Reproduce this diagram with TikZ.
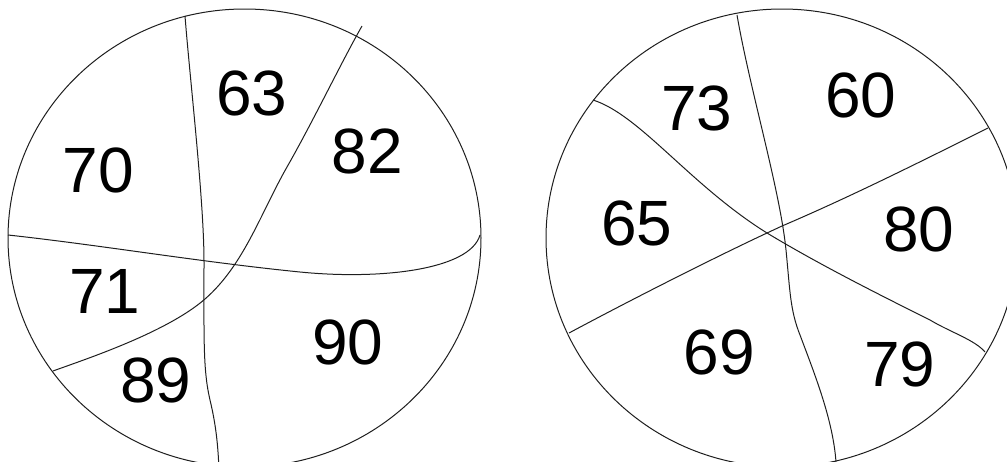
\documentclass[tikz,border=0pt]{standalone}
\usepackage{fontspec}
\setmainfont{Liberation Sans}

\tikzset{every picture/.style={line width=0.75pt}}
\tikzset{numlbl/.style={anchor=center,inner sep=0.75pt,font=\fontsize{48}{48}\selectfont}}

\begin{document}
\begin{tikzpicture}[x=0.75pt,y=0.75pt,yscale=-1,xscale=1]
%set diagram left start at 0, and has height of 461
\useasboundingbox (0,0) rectangle (1007,461);

%Shape: Ellipse [id:left]
\draw [color={rgb, 255:red, 30; green, 30; blue, 30 }  ,draw opacity=1 ] (8,238) .. controls (8,111.52) and (113.88,9) .. (244.5,9) .. controls (375.12,9) and (481,111.52) .. (481,238) .. controls (481,364.48) and (375.12,467) .. (244.5,467) .. controls (113.88,467) and (8,364.48) .. (8,238) -- cycle ;
%Curve Lines [id:left-vertical]
\draw [color={rgb, 255:red, 30; green, 30; blue, 30 }  ,draw opacity=1 ]   (185,16) .. controls (190,80) and (204,200) .. (204,262) .. controls (204,340) and (203,370) .. (210,400) .. controls (216,425) and (218,445) .. (219,470) ;
%Curve Lines [id:left-diagonal]
\draw [color={rgb, 255:red, 30; green, 30; blue, 30 }  ,draw opacity=1 ]   (362,26) .. controls (342,61) and (313,121.5) .. (287,167) .. controls (261,212.5) and (244,265) .. (205,299) .. controls (166,333) and (83,360) .. (53,371) ;
%Curve Lines [id:left-horizontal]
\draw [color={rgb, 255:red, 30; green, 30; blue, 30 }  ,draw opacity=1 ]   (8,235) .. controls (100,245) and (200,262) .. (300,272) .. controls (380,280) and (470,270) .. (480,235) ;

%Shape: Ellipse [id:right]
\draw [color={rgb, 255:red, 30; green, 30; blue, 30 }  ,draw opacity=1 ] (546,238) .. controls (546,111.52) and (651.66,9) .. (782,9) .. controls (912.34,9) and (1018,111.52) .. (1018,238) .. controls (1018,364.48) and (912.34,467) .. (782,467) .. controls (651.66,467) and (546,364.48) .. (546,238) -- cycle ;
%Curve Lines [id:right-vertical]
\draw [color={rgb, 255:red, 30; green, 30; blue, 30 }  ,draw opacity=1 ]   (737,15) .. controls (750,90) and (780,190) .. (786,250) .. controls (790,290) and (790,310) .. (800,335) .. controls (815,375) and (833,420) .. (836,462) ;
%Curve Lines [id:right-falling]
\draw [color={rgb, 255:red, 30; green, 30; blue, 30 }  ,draw opacity=1 ]   (593,100) .. controls (640,115) and (690,185) .. (767,233) .. controls (820,265) and (880,295) .. (930,320) .. controls (950,332) and (975,340) .. (985,352) ;
%Curve Lines [id:right-rising]
\draw [color={rgb, 255:red, 30; green, 30; blue, 30 }  ,draw opacity=1 ]   (569,333) .. controls (640,295) and (720,255) .. (767,233) -- (782,226) .. controls (850,197) and (920,162) .. (988,128) ;

% Text Node
\draw (252,93) node [numlbl] (n63) {63};
% Text Node
\draw (98.5,170) node [numlbl] (n70) {70};
% Text Node
\draw (367.5,151) node [numlbl] (n82) {82};
% Text Node
\draw (105,291) node [numlbl] (n71) {71};
% Text Node
\draw (348,342) node [numlbl] (n90) {90};
% Text Node
\draw (156,380) node [numlbl] (n89) {89};
% Text Node
\draw (697,108) node [numlbl] (n73) {73};
% Text Node
\draw (861,95.5) node [numlbl] (n60) {60};
% Text Node
\draw (637,223) node [numlbl] (n65) {65};
% Text Node
\draw (919,229) node [numlbl] (n80) {80};
% Text Node
\draw (719.5,352) node [numlbl] (n69) {69};
% Text Node
\draw (900,364) node [numlbl] (n79) {79};

\end{tikzpicture}
\end{document}
